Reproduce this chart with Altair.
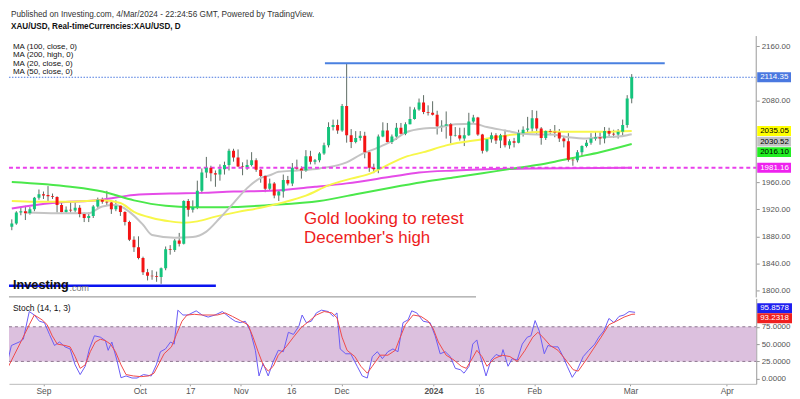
import altair as alt
import pandas as pd

# ---------------- data (bar 0 = 22 Aug 2023 ... bar 137 = 4 Mar 2024, daily) ----------------
opens = [1894,1899,1915,1917,1914,1920,1937,1942,1941,1939,
         1938,1926,1916,1919,1918,1922,1913,1907,1910,1924,
         1934,1931,1930,1920,1925,1916,1901,1875,1864,1848,
         1827,1822,1821,1820,1833,1861,1860,1874,1869,1932,
         1919,1923,1947,1974,1981,1973,1971,1979,1985,2006,
         1996,1983,1982,1985,1992,1978,1969,1950,1958,1940,
         1946,1963,1958,1981,1980,1977,1998,1990,1992,2002,
         2014,2041,2044,2036,2072,2029,2019,2025,2028,2004,
         1981,1979,2027,2036,2019,2027,2040,2031,2045,2053,
         2067,2077,2063,2062,2059,2042,2043,2045,2028,2029,
         2024,2029,2049,2055,2030,2006,2023,2029,2021,2029,
         2014,2020,2018,2032,2037,2039,2054,2039,2025,2035,
         2034,2033,2024,2020,1993,1992,2004,2013,2018,2024,
         2026,2024,2035,2031,2030,2034,2044,2083]
highs = [1905,1917,1922,1925,1923,1938,1949,1946,1954,1943,
         1939,1930,1924,1932,1930,1926,1915,1915,1926,1937,
         1937,1947,1932,1933,1926,1917,1903,1880,1880,1850,
         1832,1830,1828,1834,1865,1867,1876,1885,1933,1935,
         1933,1962,1980,1997,1984,1977,1986,1990,2009,2009,
         2008,1989,1993,2004,1995,1979,1970,1965,1960,1948,
         1971,1969,1988,1993,1983,2007,2006,1994,2004,2018,
         2048,2052,2052,2075,2135,2038,2035,2035,2034,2007,
         1987,2030,2048,2047,2030,2047,2047,2048,2071,2070,
         2083,2088,2073,2079,2065,2051,2064,2047,2041,2040,
         2040,2062,2059,2056,2031,2025,2033,2032,2031,2037,
         2023,2025,2037,2042,2056,2066,2065,2041,2036,2038,
         2044,2038,2028,2032,1996,2007,2014,2022,2032,2035,
         2034,2041,2040,2037,2038,2052,2088,2119]
lows = [1889,1897,1911,1904,1912,1917,1934,1935,1931,1935,
        1915,1915,1914,1915,1915,1908,1901,1901,1907,1922,
        1928,1925,1913,1917,1910,1896,1873,1857,1846,1823,
        1815,1816,1813,1810,1830,1853,1857,1865,1868,1909,
        1915,1920,1943,1966,1961,1953,1962,1971,1977,1990,
        1982,1970,1978,1983,1975,1959,1945,1947,1936,1932,
        1937,1955,1954,1976,1965,1975,1986,1986,1989,2000,
        2011,2036,2031,2034,2018,2010,2017,2021,1995,1975,
        1973,1973,2026,2017,2016,2022,2030,2029,2045,2052,
        2065,2060,2058,2058,2030,2034,2024,2017,2027,2021,
        2013,2028,2047,2028,2002,2004,2018,2016,2010,2011,
        2009,2011,2017,2027,2030,2034,2031,2015,2022,2029,
        2026,2019,2011,1990,1984,1989,1998,2011,2015,2021,
        2015,2017,2025,2025,2024,2029,2040,2076]
closes = [1899,1915,1917,1914,1920,1937,1942,1940,1939,1938,
          1926,1916,1919,1918,1922,1913,1907,1910,1924,1934,
          1931,1930,1920,1925,1916,1901,1875,1864,1848,1827,
          1822,1821,1820,1833,1861,1860,1874,1869,1932,1919,
          1923,1947,1974,1981,1973,1971,1979,1985,2006,1996,
          1983,1982,1985,1992,1978,1969,1950,1958,1940,1946,
          1963,1958,1981,1980,1977,1998,1990,1992,2002,2014,
          2041,2044,2036,2072,2029,2019,2025,2028,2004,1981,
          1979,2027,2036,2019,2027,2040,2031,2045,2053,2067,
          2077,2063,2062,2059,2042,2043,2045,2028,2029,2024,
          2029,2049,2055,2030,2006,2023,2029,2021,2029,2014,
          2020,2018,2032,2037,2039,2054,2039,2025,2035,2034,
          2033,2024,2020,1993,1992,2004,2013,2018,2024,2026,
          2024,2035,2031,2030,2034,2044,2083,2114.35]

# moving averages (bar index, value)
ma20_idx = [3,10,17,20,23,26,29,31,36,40,43,46,49,52,55,57,59,63,68,74,77,81,85,87,91,94,98,102,105,109,113,116,119,123,127,130,134,136,137]
ma20_val = [1915,1914,1914,1924,1926,1916,1897,1882,1878,1879,1887,1907,1929,1951,1966,1970,1975,1977,1980,1989,2000,2011,2024,2033,2039,2040,2045,2046,2041,2036,2031,2030,2030,2026,2024,2026,2027,2029,2030.52]
ma50_idx = [0,5,13,20,24,27,31,35,38,41,45,50,55,60,65,70,75,79,83,87,91,96,104,111,117,125,131,137]
ma50_val = [1932,1931,1931,1933,1929,1916,1907,1902,1900,1902,1909,1916,1922,1930,1940,1955,1965,1972,1985,1997,2004,2014,2023,2030,2034,2034,2034,2035.05]
ma100_idx = [0,13,20,27,34,40,47,57,68,76,84,91,98,104,110,116,120,125,130,137]
ma100_val = [1960,1953,1946,1933,1925,1923,1923,1926,1932,1942,1952,1960,1967,1973,1979,1985,1990,1997,2004,2016.10]
ma200_idx = [0,9,20,27,35,42,49,57,67,74,84,90,98,115,137]
ma200_val = [1921,1929,1934,1941,1943,1944,1946,1947,1953,1958,1968,1974,1977,1980,1981.16]

# stochastic (14,1,3)
k_idx = [0,1,2.7,3.6,4.9,6,7.1,8.2,9.3,10.4,11.5,12.7,13.8,14.9,16,17.1,18,19.1,20.4,21.5,
         22.1,22.9,24,24.9,26,27.3,28.4,29.8,31.5,32.6,33.5,34.6,35.7,36.5,37.3,38.4,39.5,41.3,42.6,43.9,
         45.4,47,48.7,49.8,50.9,52,53.1,54.2,55,55.9,57,58.1,59.2,60.3,61.4,62.5,63.7,64.4,65.3,66.4,
         67.5,68.6,70.1,71.2,72,72.7,73.9,75,76.4,77.5,78.6,79.7,80.8,81.9,83.1,84.2,85.3,86.4,87.5,88.3,
         89.4,90.8,92.3,93.4,94.5,95.6,96.7,97.8,98.9,99.7,100.8,101.6,102.5,103.3,104.5,105.6,106.7,107.8,108.2,109.3,
         110.2,111.3,112.4,113.5,114.3,115.2,116.1,117.2,118,119.1,120.2,121.3,122.2,123.3,124.4,125.7,126.9,128.2,129.1,130.2,
         131.3,132.4,133.5,134.6,135.7,137]
k_val = [20,48,53,57,97,92,83,81,64,48,53,46,43,20,6,18,43,62,60,55,
         41,53,27,1.4,4,1,1,6,4,20,39,43,53,50,99,92,92,98,92,89,
         92,97,88,83,81,83,69,41,4,22,4,25,41,39,67,64,76,92,81,83,
         95,99,97,90,95,43,36,36,18,4,1,32,39,29,39,43,39,81,85,98,
         95,83,81,62,36,39,32,15,13,8,18,50,56,32,4,27,35,32,42,18,
         29,27,50,60,62,84,69,36,48,46,46,32,18,2,13,32,41,50,60,69,
         87,81,90,92,97,95.8578]
d_idx = [0,1.6,3.2,4.9,6.0,7.7,8.8,9.9,11.0,12.7,13.8,14.9,16.0,17.1,18.2,19.3,20.4,21.5,22.6,23.7,
         24.9,26.0,27.6,29.3,30.9,32.1,33.2,34.3,35.9,37.0,38.2,39.3,40.9,42.6,44.3,45.9,47.6,49.2,50.9,52.6,
         53.7,54.8,55.9,57.0,58.1,59.2,60.9,62.5,64.2,65.9,67.5,69.2,70.9,72.0,73.1,74.2,75.9,77.2,78.6,79.7,
         81.4,83.1,84.7,85.8,86.9,88.6,90.3,91.9,93.0,94.1,95.8,97.5,99.1,100.2,101.3,102.5,103.6,104.7,106.3,108.0,
         109.7,111.3,113.0,114.7,115.8,116.9,118.5,120.2,121.9,123.5,124.6,126.3,127.9,129.6,131.3,132.9,134.6,136.3,137]
d_val = [13,34,55,78,92,85,78,62,50,48,46,32,15,20,39,53,57,55,50,39,
         20,6,4,3,4,8,22,36,46,64,83,92,93,92,92,92,95,90,84,78,
         60,39,20,11,18,34,46,60,74,83,92,97,95,88,60,41,32,18,8,18,
         34,34,41,60,78,92,90,83,72,53,34,27,18,15,27,41,32,18,29,34,
         32,25,41,60,67,60,48,41,27,13,11,27,43,60,78,83,89,93,93.2318]

# axis ticks (price labels hidden behind the price tags are left out)
tick_idx = [8, 29, 40, 51, 62, 73, 93, 103, 115, 136, 157]
tick_lab = ["Sep", "Oct", "17", "Nov", "16", "Dec", "2024", "16", "Feb", "Mar", "Apr"]
price_ticks = [1800, 1840, 1880, 1920, 1960, 2080, 2160]
stoch_ticks = [0, 25, 50, 75]

# drawn levels
resistance = 2135.0
resistance_from, resistance_to = 69.2, 144.3
support = 1807.0
support_from, support_to = -0.7, 45.1
last_price = 2114.35
ma200_last = 1981.16

# ---------------- layout ----------------
W = 752
H_MAIN = 290
H_ST = 86
X_DOM = [0.477, 163.42]
Y_DOM = [1790.0, 2214.6]
S_DOM = [-7.4, 116.0]
FONT = "Liberation Sans"

xs = alt.Scale(domain=X_DOM)
ys = alt.Scale(domain=Y_DOM)
ss = alt.Scale(domain=S_DOM)

price_axis = alt.Axis(orient="right", values=price_ticks, format=".2f", grid=False, domain=False,
                      tickSize=3, tickColor="#999", labelColor="#555", labelFont=FONT,
                      labelFontSize=8, labelPadding=2)
stoch_axis = alt.Axis(orient="right", values=stoch_ticks, format=".4f", grid=False, domain=True,
                      domainColor="#999", tickSize=3, tickColor="#999", labelColor="#555",
                      labelFont=FONT, labelFontSize=8, labelPadding=2)


def build_label_expr():
    e = "''"
    for ti, tl in reversed(list(zip(tick_idx, tick_lab))):
        e = f"datum.value == {ti} ? '{tl}' : ({e})"
    return e


date_axis = alt.Axis(orient="bottom", values=tick_idx, labelExpr=build_label_expr(), grid=False,
                     domain=True, domainColor="#bbb", tickSize=2, tickColor="#999",
                     labelColor="#555", labelFont=FONT, labelFontSize=8.5, labelPadding=1,
                     labelFontWeight={"condition": {"test": "datum.value == 93", "value": "bold"}, "value": "normal"})


def X(f="i"):
    return alt.X(f"{f}:Q", scale=xs, axis=None, title=None)


def XS(f="i"):
    return alt.X(f"{f}:Q", scale=xs, axis=date_axis, title=None)


def Y(f):
    return alt.Y(f"{f}:Q", scale=ys, axis=price_axis, title=None)


def S(f):
    return alt.Y(f"{f}:Q", scale=ss, axis=stoch_axis, title=None)


cdf = pd.DataFrame({"i": list(range(len(opens))), "o": opens, "h": highs, "l": lows, "c": closes})
cdf["dir"] = ["up" if c >= o else "down" for o, c in zip(opens, closes)]

wicks = alt.Chart(cdf).mark_rule(color="#5d6b63", strokeWidth=1, clip=True).encode(x=X(), y=Y("l"), y2="h:Q")
bodies = alt.Chart(cdf).mark_bar(size=3, clip=True).encode(
    x=X(), y=Y("o"), y2="c:Q",
    color=alt.Color("dir:N", scale=alt.Scale(domain=["up", "down"], range=["#14c47c", "#f41414"]), legend=None))


def ma_line(idx, val, color):
    d = pd.DataFrame({"i": idx, "v": val})
    return alt.Chart(d).mark_line(color=color, strokeWidth=2, interpolate="monotone", clip=True).encode(
        x=X(), y=Y("v"))


ma_layers = [
    ma_line(ma200_idx, ma200_val, "#e54ce8"),
    ma_line(ma100_idx, ma100_val, "#4be84b"),
    ma_line(ma50_idx, ma50_val, "#f7f74a"),
    ma_line(ma20_idx, ma20_val, "#c4c4c4"),
]

lv = pd.DataFrame({"v": [last_price]})
last_line = alt.Chart(lv).mark_rule(color="#4a78e0", strokeWidth=1, strokeDash=[1.5, 1.5]).encode(
    x=alt.value(0), x2=alt.value(W), y=Y("v"))
mv = pd.DataFrame({"v": [ma200_last]})
ma200_line = alt.Chart(mv).mark_rule(color="#e940ec", strokeWidth=2, strokeDash=[4, 3]).encode(
    x=alt.value(0), x2=alt.value(W), y=Y("v"))
rdf = pd.DataFrame({"a": [resistance_from], "b": [resistance_to], "v": [resistance]})
res_line = alt.Chart(rdf).mark_rule(color="#4a80e0", strokeWidth=2).encode(x=X("a"), x2="b:Q", y=Y("v"))
sdf = pd.DataFrame({"a": [support_from], "b": [support_to], "v": [support]})
sup_line = alt.Chart(sdf).mark_rule(color="#0a14f0", strokeWidth=2.5, clip=True).encode(x=X("a"), x2="b:Q", y=Y("v"))

one = pd.DataFrame({"k": [0]})
axis_line = alt.Chart(one).mark_rule(color="#999", strokeWidth=1).encode(
    x=alt.value(W), y=alt.value(27), y2=alt.value(H_MAIN))
sep_line = alt.Chart(one).mark_rule(color="#8a8a8a", strokeWidth=1).encode(
    x=alt.value(0), x2=alt.value(470), y=alt.value(H_MAIN - 0.5))


def txt(s, x, y, size, color="#222", weight="normal", font=FONT, baseline="middle", **kw):
    return alt.Chart(pd.DataFrame({"t": [s]})).mark_text(
        align="left", baseline=baseline, fontSize=size, font=font, color=color, fontWeight=weight, **kw
    ).encode(text="t:N", x=alt.value(x), y=alt.value(y))


header1 = txt("Published on Investing.com, 4/Mar/2024 - 22:24:56 GMT, Powered by TradingView.", 2, 0.5, 8.3, "#333",
              baseline="top")
header2 = txt("XAU/USD, Real-timeCurrencies:XAU/USD, D", 2, 18, 8.2, "#111", "bold")
legend = txt("MA (100, close, 0)\nMA (200, high, 0)\nMA (20, close, 0)\nMA (50, close, 0)", 4, 38, 8, "#111",
             lineBreak="\n", lineHeight=8.4)
anno = txt("Gold looking to retest\nDecember's high", 297, 211, 17, "#ee1c1c", lineBreak="\n", lineHeight=19)
logo1 = txt("Investing", 4, 278, 12.8, "#111", "bold")
logo2 = txt(".com", 61, 281, 9, "#777")

# right-side price tags, stacked so they do not overlap
tag_vals = [last_price, 2035.05, 2030.52, 2016.10, ma200_last]
tag_fill = ["#4a78e0", "#ffff00", "#c3c3c3", "#22ee22", "#ee22ee"]
tag_text = ["#ffffff", "#000000", "#000000", "#000000", "#ffffff"]
ppx = H_MAIN / (Y_DOM[1] - Y_DOM[0])
rows, prev = [], -100.0
for v, f, tc in zip(tag_vals, tag_fill, tag_text):
    cpx = max((Y_DOM[1] - v) * ppx, prev + 10.6)
    prev = cpx
    c = Y_DOM[1] - cpx / ppx
    rows.append({"lab": f"{v:.2f}", "c": c, "top": c + 5 / ppx, "bot": c - 5 / ppx, "fill": f, "tc": tc})
tags = pd.DataFrame(rows)
tag_rect = alt.Chart(tags).mark_rect().encode(
    x=alt.value(W + 1), x2=alt.value(W + 35), y=Y("top"), y2="bot:Q",
    color=alt.Color("fill:N", scale=None))
tag_txt = alt.Chart(tags).mark_text(align="left", baseline="middle", fontSize=8, font=FONT).encode(
    x=alt.value(W + 4), y=Y("c"), text="lab:N", color=alt.Color("tc:N", scale=None))

main = alt.layer(
    wicks, *ma_layers, ma200_line, last_line, res_line, sup_line, bodies, axis_line, sep_line,
    header1, header2, legend, anno, logo1, logo2, tag_rect, tag_txt
).properties(width=W, height=H_MAIN)

# ---------------- stochastic panel ----------------
band = alt.Chart(pd.DataFrame({"a": [75], "b": [25]})).mark_rect(color="#dcc0de").encode(
    x=alt.value(0), x2=alt.value(W), y=S("a"), y2="b:Q")
lvl = alt.Chart(pd.DataFrame({"v": [25, 75]})).mark_rule(color="#8d768f", strokeWidth=1, strokeDash=[3, 3]).encode(
    x=alt.value(0), x2=alt.value(W), y=S("v"))
kdf = pd.DataFrame({"i": k_idx, "v": k_val})
ddf = pd.DataFrame({"i": d_idx, "v": d_val})
kline = alt.Chart(kdf).mark_line(color="#6a5cf5", strokeWidth=1, clip=True).encode(x=XS(), y=S("v"))
dline = alt.Chart(ddf).mark_line(color="#f04a4a", strokeWidth=1, clip=True).encode(x=XS(), y=S("v"))
stitle = txt("Stoch (14, 1, 3)", 4, 10, 8.5, "#111")

srows = []
s_vals = [k_val[-1], d_val[-1]]
s_fill = ["#1f1ff0", "#f01f1f"]
spx = H_ST / (S_DOM[1] - S_DOM[0])
mean_px = sum((S_DOM[1] - v) * spx for v in s_vals) / len(s_vals)
for n, (v, f) in enumerate(zip(s_vals, s_fill)):
    cpx = mean_px + (n - 0.5) * 10
    c = S_DOM[1] - cpx / spx
    srows.append({"lab": f"{v:.4f}", "c": c, "top": c + 5 / spx, "bot": c - 5 / spx, "fill": f})
stags = pd.DataFrame(srows)
stag_rect = alt.Chart(stags).mark_rect().encode(
    x=alt.value(W + 1), x2=alt.value(W + 36), y=S("top"), y2="bot:Q", color=alt.Color("fill:N", scale=None))
stag_txt = alt.Chart(stags).mark_text(align="left", baseline="middle", fontSize=8, font=FONT, color="#ffffff").encode(
    x=alt.value(W + 4), y=S("c"), text="lab:N")

stoch = alt.layer(band, lvl, kline, dline, stitle, stag_rect, stag_txt).properties(width=W, height=H_ST)

chart = alt.vconcat(main, stoch, spacing=0).properties(
    padding={"left": 0, "top": 0, "right": 0, "bottom": 0}, background="white"
).configure_view(stroke=None)

chart.save("out.html", embed_options={"renderer": "svg", "actions": False})
